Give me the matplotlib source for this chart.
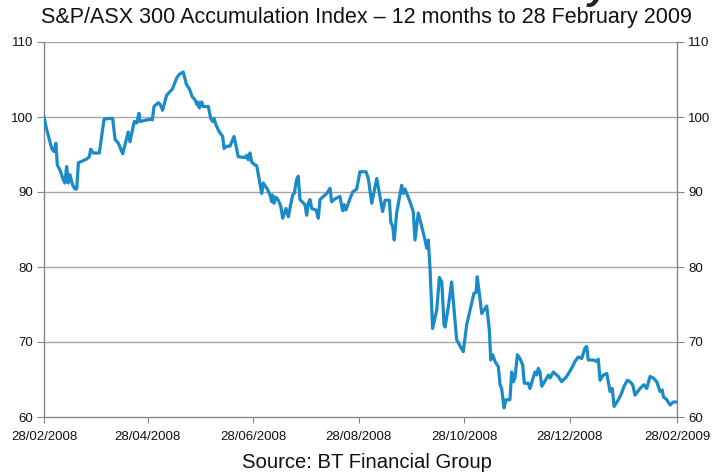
import numpy as np
import matplotlib
matplotlib.use("Agg")
import matplotlib.pyplot as plt
import matplotlib.dates as mdates

plt.rcParams['font.family'] = ['Liberation Sans', 'DejaVu Sans']

# Days after 28/02/2008 and index values
days = [0, 1.6, 4.5, 5.8, 6.9, 7.7, 9.3, 11.2, 12.1, 13.1, 14.1, 15.0, 16.6, 17.9, 18.9, 19.9,
        24.7, 26.2, 27.0, 28.5, 32.0, 34.7, 37.2, 39.7, 41.1, 43.0, 45.5, 48.7, 49.7, 52.2,
        53.6, 54.9, 55.5, 61.3, 62.6, 63.6, 66.1, 67.1, 68.6, 70.9, 73.3, 74.2, 75.2, 76.7,
        78.2, 80.5, 82.4, 84.0, 85.7, 87.3, 88.6, 89.2, 89.8, 91.2, 92.1,
        95.0, 96.4, 97.5, 98.3, 99.5, 101.4, 103.3, 104.1, 105.6, 107.5, 109.9, 112.3,
        116.2, 117.2, 118.1, 119.1, 120.1, 121.4, 123.0, 124.5, 125.9, 126.8, 129.1, 130.7,
        131.7, 132.2, 133.0, 134.1, 135.5, 136.9, 138.0, 139.9, 141.3, 142.6, 143.8, 144.7,
        146.1, 147.0, 148.0, 150.9, 151.9, 152.8, 153.8, 154.8, 157.3, 158.6, 159.6, 161.5,
        163.5, 165.4, 166.3, 168.3, 171.1, 172.7, 173.6, 174.6, 176.9, 178.5, 180.8, 182.7,
        186.2, 187.5, 189.5, 192.4, 195.8, 197.2, 199.7, 200.5, 201.6, 202.5, 203.9, 206.8,
        207.7, 208.7, 211.6, 213.5, 214.5, 216.4, 218.4, 220.3, 221.3, 222.2, 223.2, 224.7,
        227.1, 228.6, 230.0, 231.3, 231.9, 233.8, 235.7, 238.6, 242.4, 244.4, 247.3, 248.6,
        249.8, 250.5, 251.7, 253.1, 256.0, 257.5, 258.3, 259.4, 260.8, 262.7, 263.7, 264.6,
        266.0, 267.1, 269.4, 270.4, 271.4, 272.3, 273.7, 275.2, 276.8, 277.7, 280.0, 281.0,
        283.3, 283.9, 284.9, 285.8, 286.8, 287.8, 289.1, 290.7, 291.6, 292.6, 294.5, 297.4,
        299.3, 302.2, 305.1, 307.0, 308.9, 310.9, 312.8, 313.8, 314.7, 317.6, 319.6, 320.5,
        321.5, 323.4, 325.4, 326.3, 327.3, 328.6, 329.6, 332.1, 334.0, 335.4, 337.3, 338.8,
        340.4, 341.7, 344.6, 346.9, 348.5, 350.4, 352.3, 354.3, 356.2, 357.5, 358.1, 360.1,
        362.0, 363.9, 366.0]

values = [100.0, 98.3, 95.8, 95.4, 96.5, 93.6, 92.9, 91.6, 91.2, 93.4, 91.2, 92.3, 90.9, 90.4, 90.4, 93.9,
          94.4, 94.7, 95.7, 95.2, 95.2, 99.7, 99.8, 99.8, 97.0, 96.5, 95.1, 98.0, 96.7, 99.4,
          99.2, 100.5, 99.4, 99.7, 99.6, 101.4, 101.9, 101.7, 100.9, 102.9, 103.5, 103.7, 104.3, 105.2,
          105.7, 106.0, 104.3, 103.8, 102.7, 102.3, 101.6, 102.0, 101.2, 102.0, 101.4,
          101.4, 99.8, 99.4, 99.8, 98.9, 98.0, 97.4, 95.8, 96.1, 96.1, 97.4, 94.7,
          94.6, 94.9, 94.3, 95.2, 94.0, 93.7, 93.5, 91.6, 89.8, 91.2, 90.4, 89.6,
          88.7, 89.6, 88.5, 89.3, 88.9, 88.1, 86.5, 87.8, 86.7, 88.3, 89.6, 89.8,
          91.7, 92.1, 89.0, 88.3, 86.9, 88.5, 89.0, 87.8, 87.6, 86.5, 89.0, 89.4,
          89.8, 90.5, 88.7, 89.1, 89.4, 87.5, 88.3, 87.6, 89.1, 90.0, 90.4, 92.7,
          92.7, 91.8, 88.5, 91.8, 87.4, 88.9, 88.9, 86.0, 85.4, 83.6, 87.2, 90.9,
          89.8, 90.4, 88.7, 87.4, 83.6, 87.2, 85.4, 83.6, 82.5, 83.6, 79.8, 71.8,
          74.3, 78.6, 78.0, 72.3, 72.0, 74.7, 78.0, 70.3, 68.7, 72.3, 75.2, 76.5,
          76.6, 78.7, 76.5, 73.8, 74.8, 71.6, 67.6, 68.3, 67.4, 66.7, 64.3, 63.8,
          61.2, 62.3, 62.3, 66.0, 64.7, 65.2, 68.3, 67.8, 66.9, 64.5, 64.5, 63.8,
          65.6, 66.0, 65.6, 66.5, 66.0, 64.1, 64.6, 65.2, 65.6, 65.2, 66.0, 65.4,
          64.7, 65.4, 66.5, 67.4, 68.0, 67.8, 69.2, 69.4, 67.6, 67.6, 67.4, 67.7,
          64.9, 65.6, 65.8, 64.7, 63.4, 63.8, 61.4, 62.3, 63.2, 64.1, 64.9, 64.7,
          64.3, 62.9, 63.8, 64.3, 63.8, 65.4, 65.2, 64.7, 63.4, 63.6, 62.7, 62.3,
          61.6, 62.0, 62.0]

start = np.datetime64('2008-02-28')
tick_dates = ['2008-02-28', '2008-04-28', '2008-06-28', '2008-08-28',
              '2008-10-28', '2008-12-28', '2009-02-28']
tick_labels = ['28/02/2008', '28/04/2008', '28/06/2008', '28/08/2008',
               '28/10/2008', '28/12/2008', '28/02/2009']
y_ticks = [60, 70, 80, 90, 100, 110]

title = 'S&P/ASX 300 Accumulation Index \u2013 12 months to 28 February 2009'
source = 'Source: BT Financial Group'

x = start + (np.array(days) * 24 * 3600).astype('timedelta64[s]')
x = x.astype('datetime64[ms]').astype(object)

fig = plt.figure(figsize=(7.12, 4.73), dpi=100)
ax = fig.add_axes([44/712, 1-417/473, (677-44)/712, (417-42)/473])

grid_c = '#a6a6a6'
spine_c = '#868686'
for v in y_ticks[1:]:
    ax.axhline(v, color=grid_c, lw=1.0, zorder=1)

ax.plot(x, values, color='#1b8bc8', lw=2.3, zorder=3, solid_joinstyle='round')

ax.set_ylim(60, 110)
ax.set_xlim(mdates.date2num(np.datetime64(tick_dates[0]).astype(object)),
            mdates.date2num(np.datetime64(tick_dates[-1]).astype(object)))
ax.set_yticks(y_ticks)
ax.set_yticklabels([str(v) for v in y_ticks])
ax.set_xticks([mdates.date2num(np.datetime64(d).astype(object)) for d in tick_dates])
ax.set_xticklabels(tick_labels)

for s in ['left', 'right', 'bottom']:
    ax.spines[s].set_color(spine_c)
    ax.spines[s].set_linewidth(1.0)
ax.spines['top'].set_visible(False)

ax.tick_params(axis='y', which='both', left=True, right=True, labelleft=True, labelright=True,
               direction='out', length=5, color=spine_c, labelsize=9.5, pad=3, labelcolor='#111111')
ax.tick_params(axis='x', direction='out', length=4, color=spine_c, labelsize=9.5, pad=6,
               labelcolor='#111111')

fig.text(366/712, 1-18/473, title, ha='center', va='center', fontsize=15.5, color='#111111')
fig.text(367/712, 1-462/473, source, ha='center', va='center', fontsize=14.6, color='#111111')
# clipped descender of a heading above the chart
fig.text(588/712, 1+1/473, 'y', ha='left', va='baseline', fontsize=28, fontweight='bold',
         style='italic', color='#222222')

fig.savefig('out.png', dpi=100)
